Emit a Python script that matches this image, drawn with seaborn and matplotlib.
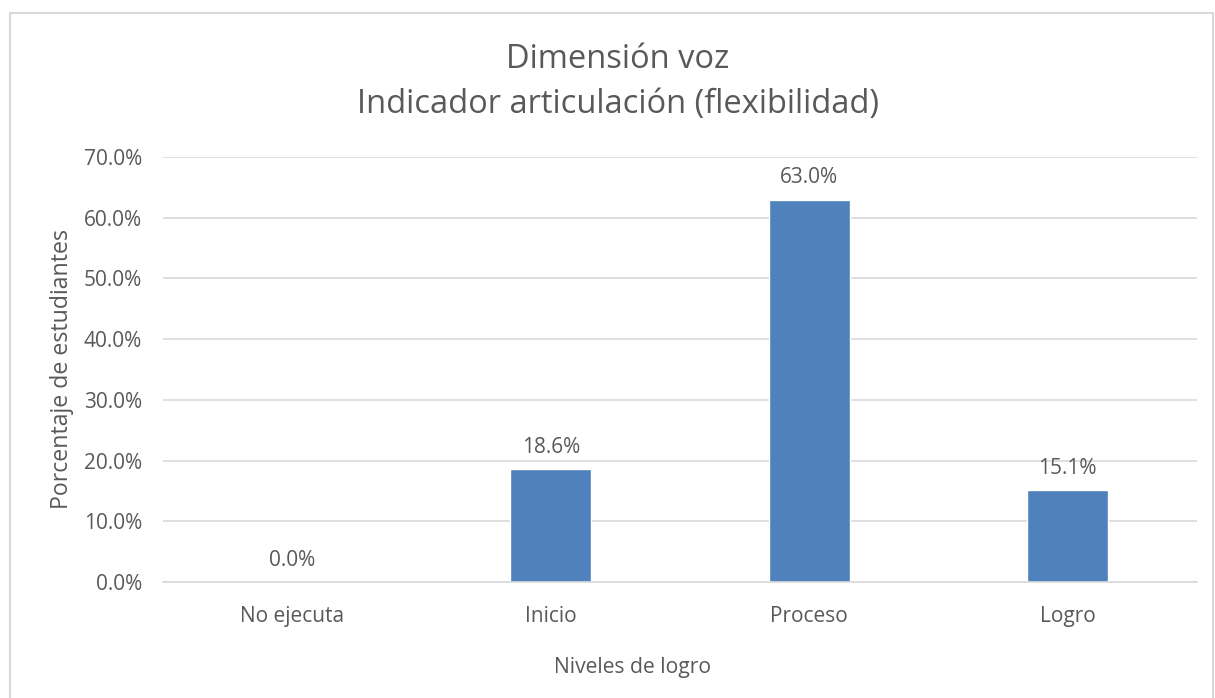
import matplotlib
matplotlib.use("Agg")
import matplotlib.pyplot as plt
import seaborn as sns
import pandas as pd
from matplotlib.patches import Rectangle
from matplotlib.ticker import FuncFormatter

categories = ["No ejecuta", "Inicio", "Proceso", "Logro"]
values = [0.0, 18.6, 63.0, 15.1]
yticks = [0, 10, 20, 30, 40, 50, 60, 70]

sns.set_theme(style="white")
plt.rcParams['font.family'] = ['Open Sans', 'DejaVu Sans']
txt = "#595959"

df = pd.DataFrame({"cat": categories, "val": values})
fig = plt.figure(figsize=(12.15, 6.98), dpi=100)
ax = fig.add_axes([163/1215, 1-582/698, (1197-163)/1215, (582-157)/698])

sns.barplot(data=df, x="cat", y="val", color="#4F81BD", saturation=1, width=0.315, ax=ax)
ax.set_ylim(0, 70)
ax.set_yticks(yticks)
ax.yaxis.set_major_formatter(FuncFormatter(lambda v, p: f"{v:.1f}%"))
ax.grid(axis="y", color="#D9D9D9", linewidth=1.2)
ax.set_axisbelow(True)
for s in ["top", "right", "left"]:
    ax.spines[s].set_visible(False)
ax.spines["bottom"].set_color("#D9D9D9")
ax.spines["bottom"].set_linewidth(1.2)
ax.tick_params(axis="both", length=0, labelsize=15, colors=txt)
ax.tick_params(axis="x", pad=17)
ax.tick_params(axis="y", pad=15)

ax.bar_label(ax.containers[0], labels=[f"{v:.1f}%" for v in values], padding=8, fontsize=15, color=txt)

ax.set_xlabel("")
ax.set_ylabel("")
fig.text(632/1215, 1-667/698, "Niveles de logro", ha="center", va="center", fontsize=15.2, color=txt)
fig.text(62/1215, 1-369/698, "Porcentaje de estudiantes", ha="center", va="center", rotation=90,
         fontsize=16.7, color=txt)

fig.text(618/1215, 1-60/698, "Dimensión voz", ha="center", va="center", fontsize=23.5, color=txt)
fig.text(618/1215, 1-105/698, "Indicador articulación (flexibilidad)", ha="center", va="center", fontsize=23.5, color=txt)

fig.patches.append(Rectangle((9.5/1215, -0.05), (1213-9.5)/1215, 1.05 - 13.5/698,
                             transform=fig.transFigure, fill=False, edgecolor="#D9D9D9", linewidth=1.5))

fig.savefig("out.png", dpi=100)
